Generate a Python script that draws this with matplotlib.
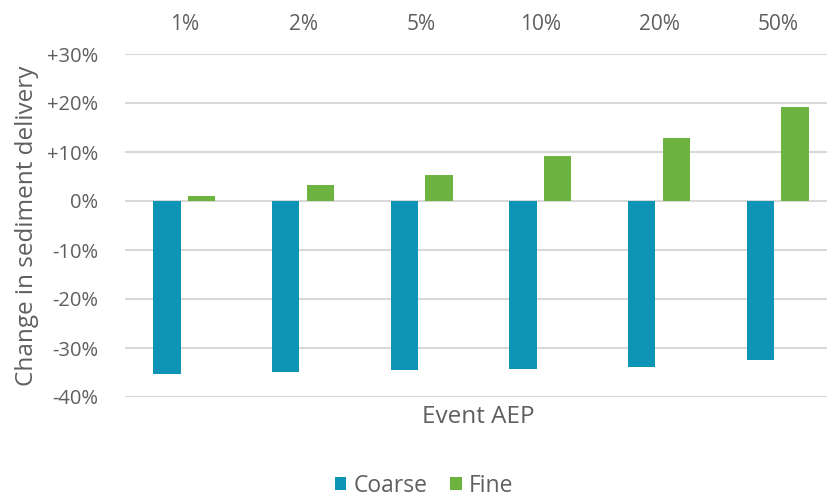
import matplotlib.pyplot as plt
import numpy as np

# Data
categories = ['1%', '2%', '5%', '10%', '20%', '50%']
coarse = [-35.3, -34.9, -34.4, -34.2, -33.9, -32.4]
fine = [1.1, 3.2, 5.4, 9.2, 12.8, 19.1]
yticks = [-40, -30, -20, -10, 0, 10, 20, 30]
ytick_labels = ['-40%', '-30%', '-20%', '-10%', '0%', '+10%', '+20%', '+30%']

coarse_color = '#0E95B5'
fine_color = '#6DB33F'
text_color = '#5F5F5F'
grid_color = '#D9D9D9'

plt.rcParams['font.family'] = ['Open Sans', 'DejaVu Sans']

W, H = 827, 497
fig = plt.figure(figsize=(W / 100, H / 100), dpi=100)

# axes in pixel coordinates (left, top, right, bottom)
left, top, right, bottom = 125, 54, 837, 397
ax = fig.add_axes([left / W, 1 - bottom / H, (right - left) / W, (bottom - top) / H])

x = np.arange(len(categories))
bw = 0.23
off = 0.145
ax.bar(x - off, coarse, bw, color=coarse_color, label='Coarse', zorder=3)
ax.bar(x + off, fine, bw, color=fine_color, label='Fine', zorder=3)

ax.set_xlim(-0.5, len(categories) - 0.5)
ax.set_ylim(-40, 30)
ax.set_yticks(yticks)
ax.set_yticklabels(ytick_labels)
ax.yaxis.grid(True, color=grid_color, linewidth=1.5, zorder=0)
ax.tick_params(axis='y', length=0, pad=19, labelsize=14.5, labelcolor=text_color)

# category labels along the top
ax.xaxis.tick_top()
ax.set_xticks(x)
ax.set_xticklabels(categories)
ax.tick_params(axis='x', length=0, pad=14, labelsize=15, labelcolor=text_color)

for s in ax.spines.values():
    s.set_visible(False)

ax.set_ylabel('Change in sediment delivery', fontsize=17.5, color=text_color, labelpad=6)
fig.text(478 / W, 1 - 417 / H, 'Event AEP', ha='center', va='center',
         fontsize=17.5, color=text_color)

handles, labels = ax.get_legend_handles_labels()
fig.legend(handles, labels, loc='center', bbox_to_anchor=(424 / W, 1 - 486 / H),
           ncol=2, frameon=False, fontsize=16.5, labelcolor=text_color,
           handlelength=0.5, handleheight=0.5, handletextpad=0.3, columnspacing=1.0)

fig.savefig('out.png', dpi=100)
